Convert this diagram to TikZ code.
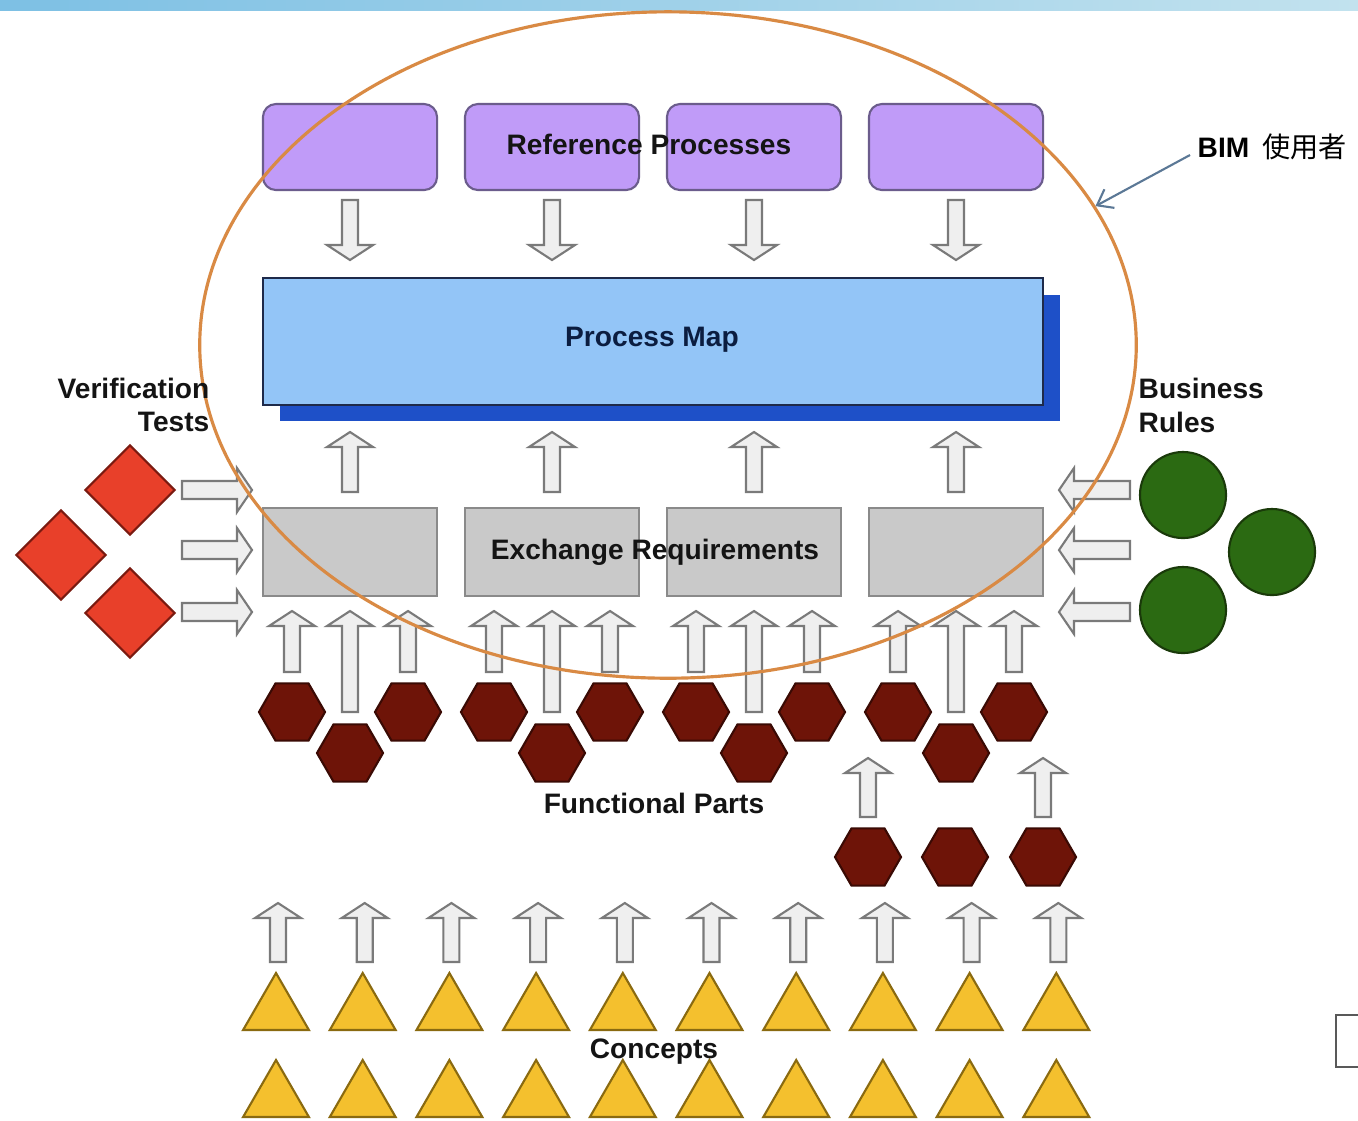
\documentclass[tikz,border=0pt]{standalone}
\usepackage{fontspec}
\setmainfont{Liberation Sans}
\newfontfamily\cjkfont{Noto Sans CJK SC}
\usetikzlibrary{calc,shapes.geometric,arrows.meta}

\definecolor{barL}{HTML}{7DC0E4}
\definecolor{barR}{HTML}{C2E2EE}
\definecolor{rpfill}{HTML}{C09BF8}
\definecolor{rpline}{HTML}{6B5C8C}
\definecolor{pmfill}{HTML}{93C5F7}
\definecolor{pmline}{HTML}{1E2A4A}
\definecolor{pmshadow}{HTML}{1E50C8}
\definecolor{erfill}{HTML}{C9C9C9}
\definecolor{erline}{HTML}{8A8A8A}
\definecolor{arrowfill}{HTML}{EFEFEF}
\definecolor{arrowline}{HTML}{7A7A7A}
\definecolor{vtfill}{HTML}{E8402A}
\definecolor{vtline}{HTML}{7A1A10}
\definecolor{brfill}{HTML}{2B6A12}
\definecolor{brline}{HTML}{1A3A0A}
\definecolor{hexfill}{HTML}{6E1408}
\definecolor{hexline}{HTML}{3A0A04}
\definecolor{trifill}{HTML}{F4C02E}
\definecolor{triline}{HTML}{8A6A10}
\definecolor{ellcol}{HTML}{D98A44}
\definecolor{bimarrow}{HTML}{5B7896}
\definecolor{txt}{HTML}{141414}
\definecolor{pmtxt}{HTML}{0B1D40}

\tikzset{
  % hollow block arrow drawn from the start coordinate to the tip coordinate
  blk/.style={draw=arrowline, fill=arrowfill, line width=0.6pt, line join=miter,
    to path={let \p1=($(\tikztotarget)!\blkH!(\tikztostart)$) in
      ($(\tikztostart)!\blkS!90:(\tikztotarget)$)
      -- ($(\p1)!\blkS!-90:(\tikztostart)$)
      -- ($(\p1)!\blkW!-90:(\tikztostart)$)
      -- (\tikztotarget)
      -- ($(\p1)!\blkW!90:(\tikztostart)$)
      -- ($(\p1)!\blkS!90:(\tikztostart)$)
      -- ($(\tikztostart)!\blkS!-90:(\tikztotarget)$)
      -- cycle}},
  vblk/.style={blk, /utils/exec={\def\blkS{0.08cm}\def\blkW{0.23cm}\def\blkH{0.15cm}}},
  hblk/.style={blk, /utils/exec={\def\blkS{0.09cm}\def\blkW{0.22cm}\def\blkH{0.15cm}}},
  rpbox/.style={draw=rpline, fill=rpfill, line width=0.6pt, rounded corners=0.13cm,
    minimum width=1.74cm, minimum height=0.86cm, inner sep=0},
  pmbox/.style={draw=pmline, fill=pmfill, line width=0.6pt,
    minimum width=7.80cm, minimum height=1.27cm, inner sep=0},
  erbox/.style={draw=erline, fill=erfill, line width=0.6pt,
    minimum width=1.74cm, minimum height=0.88cm, inner sep=0},
  vtdiam/.style={diamond, draw=vtline, fill=vtfill, line width=0.6pt,
    minimum width=0.90cm, minimum height=0.90cm, inner sep=0},
  brdisc/.style={circle, draw=brline, fill=brfill, line width=0.6pt,
    minimum size=0.86cm, inner sep=0},
  hexa/.style={regular polygon, regular polygon sides=6, draw=hexline, fill=hexfill,
    line width=0.6pt, minimum size=0.66cm, inner sep=0},
  tri/.style={regular polygon, regular polygon sides=3, draw=triline, fill=trifill,
    line width=0.6pt, minimum size=0.76cm, inner sep=0},
  lbl/.style={font=\fontsize{8}{9.6}\selectfont\bfseries, text=txt, inner sep=0},
}

\begin{document}
\begin{tikzpicture}[x=0.01cm, y=-0.01cm]
\useasboundingbox (0,0) rectangle (1358,1120);
\fill[white] (0,0) rectangle (1358,1120);

% header band
\shade[left color=barL, right color=barR] (0,0) rectangle (1358,10);

% reference processes row
\foreach \c [count=\i] in {350,552,754,956} {
  \node[rpbox] (rp\i) at (\c,147) {};
  \coordinate (dna\i) at (\c,200);
  \coordinate (dnb\i) at (\c,260);
  \draw[vblk] (dna\i) to (dnb\i);
}

% process map with its drop shadow
\fill[pmshadow] (280,295) rectangle (1060,421);
\node[pmbox] (pm) at (653,341.5) {};

% exchange requirements row and the arrows feeding it
\foreach \c [count=\i] in {350,552,754,956} {
  \node[erbox] (er\i) at (\c,552) {};
  \coordinate (upa\i) at (\c,492);
  \coordinate (upb\i) at (\c,432);
  \draw[vblk] (upa\i) to (upb\i);
  % functional parts under each exchange requirement
  \node[hexa] (fpl\i) at (\c-58,712) {};
  \node[hexa] (fpr\i) at (\c+58,712) {};
  \node[hexa] (fpm\i) at (\c,753) {};
  \coordinate (fla\i) at (\c-58,672);
  \coordinate (flb\i) at (\c-58,611);
  \coordinate (fra\i) at (\c+58,672);
  \coordinate (frb\i) at (\c+58,611);
  \coordinate (fma\i) at (\c,712);
  \coordinate (fmb\i) at (\c,611);
  \draw[vblk] (fla\i) to (flb\i);
  \draw[vblk] (fra\i) to (frb\i);
  \draw[vblk] (fma\i) to (fmb\i);
}

% second layer of functional parts
\node[hexa] (fq1) at (868,857) {};
\node[hexa] (fq2) at (955,857) {};
\node[hexa] (fq3) at (1043,857) {};
\coordinate (fqa1) at (868,817);
\coordinate (fqb1) at (868,758);
\coordinate (fqa3) at (1043,817);
\coordinate (fqb3) at (1043,758);
\draw[vblk] (fqa1) to (fqb1);
\draw[vblk] (fqa3) to (fqb3);

% concepts
\foreach \i in {0,...,9} {
  \pgfmathsetmacro\cx{278+86.7*\i}
  \node[tri] (ca\i) at (\cx-2,1011) {};
  \node[tri] (cb\i) at (\cx-2,1098) {};
  \coordinate (cua\i) at (\cx,962);
  \coordinate (cub\i) at (\cx,903);
  \draw[vblk] (cua\i) to (cub\i);
}

% verification tests
\node[vtdiam] (vt1) at (130,490) {};
\node[vtdiam] (vt2) at (61,555) {};
\node[vtdiam] (vt3) at (130,613) {};
\foreach \y [count=\i] in {490,550,612} {
  \coordinate (vta\i) at (182,\y);
  \coordinate (vtb\i) at (252,\y);
  \draw[hblk] (vta\i) to (vtb\i);
}

% business rules
\node[brdisc] (br1) at (1183,495) {};
\node[brdisc] (br2) at (1272,552) {};
\node[brdisc] (br3) at (1183,610) {};
\foreach \y [count=\i] in {490,550,612} {
  \coordinate (bra\i) at (1130,\y);
  \coordinate (brb\i) at (1059,\y);
  \draw[hblk] (bra\i) to (brb\i);
}

% small frame at the lower right edge
\draw[draw=gray!70!black, line width=0.7pt] (1362,1015) -- (1336,1015) -- (1336,1067) -- (1362,1067);

% BIM user scope
\node[ellipse, draw=ellcol, line width=0.9pt, minimum width=9.36cm, minimum height=6.66cm, inner sep=0] (bim) at (668,345) {};
\node[anchor=west, inner sep=0] (biml) at (1197,147)
  {\fontsize{8}{9.6}\selectfont{\bfseries BIM}\hspace{0.13cm}{\cjkfont 使用者}};
\draw[bimarrow, line width=0.6pt, -{Straight Barb[length=4pt,width=6pt]}]
  ([xshift=-0.07cm,yshift=-0.08cm]biml.west) -- (bim.18.4);

% labels
\node[lbl] (trp) at (649,144) {Reference Processes};
\node[lbl, text=pmtxt] (tpm) at (652,340) {Process Map};
\node[lbl] (ter) at (655,552) {Exchange Requirements};
\node[lbl] (tfp) at (654,803) {Functional Parts};
\node[lbl] (tcc) at (654,1052) {Concepts};
\node[lbl, anchor=east] (tvt1) at (210,388) {Verification};
\node[lbl, anchor=east] (tvt2) at (210,422) {Tests};
\node[lbl, anchor=west] (tbr1) at (1138,388) {Business};
\node[lbl, anchor=west] (tbr2) at (1138,422) {Rules};
\end{tikzpicture}
\end{document}
